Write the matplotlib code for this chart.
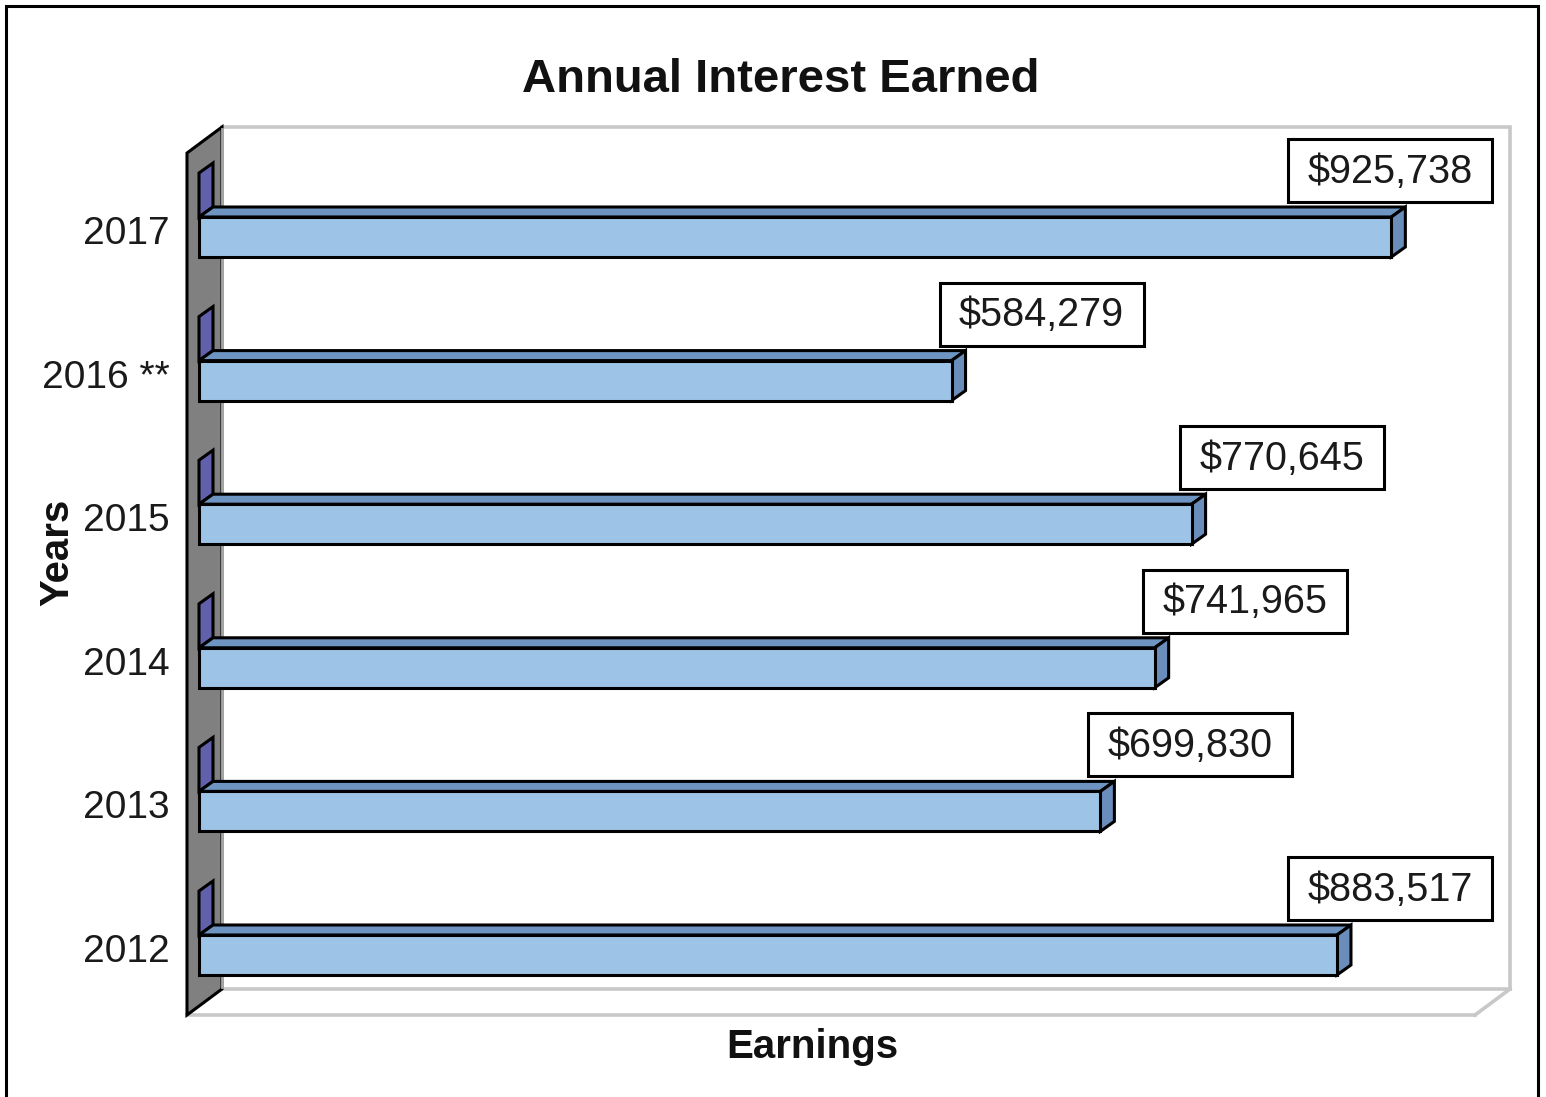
import matplotlib
matplotlib.use("Agg")
import matplotlib.pyplot as plt
from matplotlib.patches import Polygon, Rectangle

# ---- data ----
years = ["2012", "2013", "2014", "2015", "2016 **", "2017"]
earnings = [883517, 699830, 741965, 770645, 584279, 925738]
labels = ["$883,517", "$699,830", "$741,965", "$770,645", "$584,279", "$925,738"]
title = "Annual Interest Earned"
xlabel = "Earnings"
ylabel = "Years"
XMAX = 1_000_000

plt.rcParams['font.family'] = ['Liberation Sans', 'DejaVu Sans']

W, H = 1546, 1097
fig = plt.figure(figsize=(W / 100, H / 100), dpi=100)
ax = fig.add_axes([0, 0, 1, 1])
ax.axis('off')

K = 1288 / XMAX      # pixels per unit
X0 = 199             # pixel of zero
STEP = 143.6         # pixels per category
Y0 = 142             # pixel (from bottom) of first category
ax.set_xlim(-X0 / K, (W - X0) / K)
ax.set_ylim(-Y0 / STEP, (H - Y0) / STEP)


def ux(p):
    return p / K


def uy(p):
    return p / STEP


def ay(ptop):
    return ((H - ptop) - Y0) / STEP


LW = 2.2
FRONT = '#9DC3E6'
TOP = '#6E95C2'
SIDE = '#6A8DBC'
STUB = '#6160AA'

# ---- frame ----
fr_x0, fr_x1 = ux(6 - X0), ux(1538 - X0)
fr_y0, fr_y1 = ay(1100), ay(6)
ax.plot([fr_x0, fr_x0, fr_x1, fr_x1], [fr_y0, fr_y1, fr_y1, fr_y0],
        color='black', lw=2.2, solid_joinstyle='miter', zorder=1)

# ---- walls / floor ----
xl = ux(-12)
xr = XMAX + ux(-12)
yb = ay(1015)
yt = ay(153)
Dx, Dy = ux(35), uy(26)
grey = '#C8C8C8'
ax.plot([xl, xr], [yb, yb], color=grey, lw=2.6, zorder=2)
ax.plot([xl + Dx, xr + Dx], [yb + Dy, yb + Dy], color=grey, lw=2.6, zorder=2)
ax.plot([xr, xr + Dx], [yb, yb + Dy], color=grey, lw=2.6, zorder=2)
ax.plot([xl + Dx, xr + Dx, xr + Dx], [yt + Dy, yt + Dy, yb + Dy], color=grey, lw=2.6,
        solid_joinstyle='miter', zorder=2)
wall = Polygon([(xl, yb), (xl, yt), (xl + Dx, yt + Dy), (xl + Dx, yb + Dy)],
               closed=True, facecolor='#808080', edgecolor='black', lw=LW, zorder=3)
ax.add_patch(wall)
ax.plot([xl + Dx, xl + Dx], [yb + Dy + uy(2), yt + Dy - uy(2)], color='#A8A8A8', lw=2.0, zorder=3)

# ---- bars ----
h = uy(40)
ddx, ddy = ux(14), uy(10)
for i, (v, lab, yr) in enumerate(zip(earnings, labels, years)):
    bot = i - h / 2
    top = i + h / 2
    stub = Polygon([(0, top), (0, top + uy(44)), (ddx, top + uy(54)), (ddx, top + ddy)],
                   closed=True, facecolor=STUB, edgecolor='black', lw=LW, zorder=5)
    ax.add_patch(stub)
    topf = Polygon([(0, top), (v, top), (v + ddx, top + ddy), (ddx, top + ddy)],
                   closed=True, facecolor=TOP, edgecolor='black', lw=LW, zorder=6)
    ax.add_patch(topf)
    side = Polygon([(v, bot), (v, top), (v + ddx, top + ddy), (v + ddx, bot + ddy)],
                   closed=True, facecolor=SIDE, edgecolor='black', lw=LW, zorder=6)
    ax.add_patch(side)
    front = Rectangle((0, bot), v, h, facecolor=FRONT, edgecolor='black', lw=LW, zorder=7)
    ax.add_patch(front)

    # data label box
    bw, bh = ux(204), uy(63)
    left = v + ux(-12)
    left = min(left, ux(1288 - X0))
    bb = top + uy(15)
    box = Rectangle((left, bb), bw, bh, facecolor='white', edgecolor='black', lw=LW, zorder=4)
    ax.add_patch(box)
    ax.text(left + bw / 2, bb + bh / 2 - uy(1), lab, ha='center', va='center',
            fontsize=28.5, color='#1a1a1a', zorder=4.5)

    # category label
    ax.text(ux(170 - X0), i + uy(3), yr, ha='right', va='center', fontsize=28,
            color='#1a1a1a', zorder=8)

# ---- titles ----
fig.text(781 / W, 1 - 80 / H, title, ha='center', va='center', fontsize=34,
         fontweight='bold', color='#111111')
fig.text(812 / W, 1 - 1047 / H, xlabel, ha='center', va='center', fontsize=29,
         fontweight='bold', color='#111111')
fig.text(57 / W, 1 - 552 / H, ylabel, ha='center', va='center', fontsize=29,
         fontweight='bold', rotation=90, color='#111111')

fig.savefig('out.png', dpi=100, facecolor='white')
